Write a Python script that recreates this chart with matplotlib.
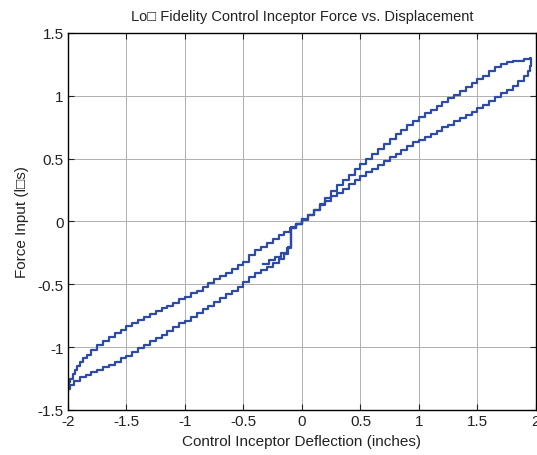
import matplotlib
matplotlib.use("Agg")
import matplotlib.pyplot as plt

plt.rcParams['font.family'] = ['Liberation Sans', 'DejaVu Sans']

# start segment (before joining the loop)
start_x = [-0.33, -0.28, -0.23, -0.18, -0.13, -0.09, -0.09]
start_y = [-0.34, -0.31, -0.28, -0.25, -0.21, -0.18, -0.05]

# upper branch (increasing displacement)
up_x = [-2.00, -1.99, -1.98, -1.96, -1.94, -1.92, -1.90, -1.87, -1.84, -1.80,
        -1.75, -1.70, -1.65, -1.60, -1.55,
        -1.50, -1.45, -1.40, -1.35, -1.30, -1.25, -1.20, -1.15, -1.10, -1.05,
        -1.00, -0.95, -0.90, -0.85, -0.80, -0.75, -0.70, -0.65, -0.60, -0.55,
        -0.50, -0.45, -0.40, -0.35, -0.30, -0.25, -0.20, -0.15, -0.10, -0.05,
        0.00, 0.05, 0.10, 0.15, 0.20, 0.25, 0.30, 0.35, 0.40, 0.45,
        0.50, 0.55, 0.60, 0.65, 0.70, 0.75, 0.80, 0.85, 0.90, 0.95,
        1.00, 1.05, 1.10, 1.15, 1.20, 1.25, 1.30, 1.35, 1.40, 1.45,
        1.50, 1.55, 1.60, 1.65, 1.70, 1.75, 1.80, 1.85, 1.90, 1.95]
up_y = [-1.32, -1.28, -1.25, -1.21, -1.18, -1.15, -1.12, -1.09, -1.06, -1.02,
        -0.98, -0.95, -0.92, -0.89, -0.86,
        -0.83, -0.81, -0.78, -0.76, -0.74, -0.71, -0.69, -0.67, -0.65, -0.62,
        -0.60, -0.57, -0.55, -0.52, -0.49, -0.46, -0.43, -0.41, -0.38, -0.35,
        -0.32, -0.27, -0.23, -0.20, -0.17, -0.14, -0.11, -0.08, -0.05, -0.02,
        0.02, 0.05, 0.09, 0.14, 0.19, 0.24, 0.29, 0.33, 0.37, 0.42,
        0.46, 0.50, 0.54, 0.58, 0.62, 0.66, 0.70, 0.73, 0.77, 0.80,
        0.83, 0.86, 0.89, 0.92, 0.95, 0.98, 1.01, 1.04, 1.07, 1.10,
        1.13, 1.16, 1.20, 1.23, 1.25, 1.27, 1.28, 1.28, 1.29, 1.30]

# lower branch (decreasing displacement)
down_x = [1.96, 1.96, 1.95, 1.93, 1.90, 1.85, 1.80, 1.75, 1.70, 1.65, 1.60, 1.55,
          1.50, 1.45, 1.40, 1.35, 1.30, 1.25, 1.20, 1.15, 1.10, 1.05,
          1.00, 0.95, 0.90, 0.85, 0.80, 0.75, 0.70, 0.65, 0.60, 0.55,
          0.50, 0.45, 0.40, 0.35, 0.30, 0.25, 0.20, 0.15, 0.10, 0.05,
          0.00, -0.05, -0.09, -0.09, -0.12, -0.15, -0.20, -0.25, -0.30, -0.35,
          -0.40, -0.45, -0.50, -0.55, -0.60, -0.65, -0.70, -0.75, -0.80, -0.85,
          -0.90, -0.95, -1.00, -1.05, -1.10, -1.15, -1.20, -1.25, -1.30, -1.35,
          -1.40, -1.45, -1.50, -1.55, -1.60, -1.65, -1.70, -1.75, -1.80, -1.85,
          -1.90, -1.95, -1.98, -2.00]
down_y = [1.30, 1.24, 1.20, 1.16, 1.12, 1.08, 1.05, 1.02, 0.99, 0.96, 0.93, 0.90,
          0.87, 0.85, 0.82, 0.80, 0.77, 0.75, 0.72, 0.70, 0.67, 0.65,
          0.63, 0.60, 0.57, 0.54, 0.51, 0.48, 0.45, 0.42, 0.39, 0.36,
          0.33, 0.30, 0.26, 0.23, 0.20, 0.16, 0.13, 0.09, 0.05, 0.01,
          -0.02, -0.04, -0.05, -0.20, -0.26, -0.30, -0.33, -0.36, -0.39, -0.41,
          -0.44, -0.48, -0.52, -0.55, -0.58, -0.61, -0.64, -0.67, -0.70, -0.73,
          -0.76, -0.79, -0.81, -0.84, -0.87, -0.90, -0.93, -0.95, -0.98, -1.01,
          -1.04, -1.07, -1.09, -1.12, -1.14, -1.16, -1.18, -1.20, -1.22, -1.24,
          -1.27, -1.30, -1.33, -1.35]

x_ticks = [-2, -1.5, -1, -0.5, 0, 0.5, 1, 1.5, 2]
y_ticks = [-1.5, -1, -0.5, 0, 0.5, 1, 1.5]
x_tick_labels = ['-2', '-1.5', '-1', '-0.5', '0', '0.5', '1', '1.5', '2']
y_tick_labels = ['-1.5', '-1', '-0.5', '0', '0.5', '1', '1.5']

title = 'Lo\u25a1 Fidelity Control Inceptor Force vs. Displacement'
xlabel = 'Control Inceptor Deflection (inches)'
ylabel = 'Force Input (l\u25a1s)'

# assemble path: start -> upper (from -0.05) -> lower -> upper (to 0)
i0 = up_x.index(-0.05)
i1 = up_x.index(0.00)
path_x = start_x + up_x[i0:] + down_x + up_x[:i1 + 1]
path_y = start_y + up_y[i0:] + down_y + up_y[:i1 + 1]

fig = plt.figure(figsize=(5.37, 4.56), dpi=100)
ax = fig.add_axes([0.1266, 0.0987, 0.8715, 0.8268])
ax.plot(path_x, path_y, drawstyle='steps-post', color='#2d4ba6', lw=1.6)

ax.set_xlim(-2, 2)
ax.set_ylim(-1.5, 1.5)
ax.set_xticks(x_ticks)
ax.set_xticklabels(x_tick_labels)
ax.set_yticks(y_ticks)
ax.set_yticklabels(y_tick_labels)
ax.grid(True, color='#b0b0b0', lw=0.7, ls='-')
ax.set_axisbelow(True)
ax.tick_params(direction='in', top=True, right=True, length=4, width=0.8,
               labelsize=11, pad=3, colors='#222222')
for s in ax.spines.values():
    s.set_linewidth(1.0)
ax.set_title(title, fontsize=10.5, pad=9, color='#222222')
ax.set_xlabel(xlabel, fontsize=11, labelpad=4, color='#222222')
ax.set_ylabel(ylabel, fontsize=11, labelpad=6, color='#222222')

fig.savefig('out.png', dpi=100)
